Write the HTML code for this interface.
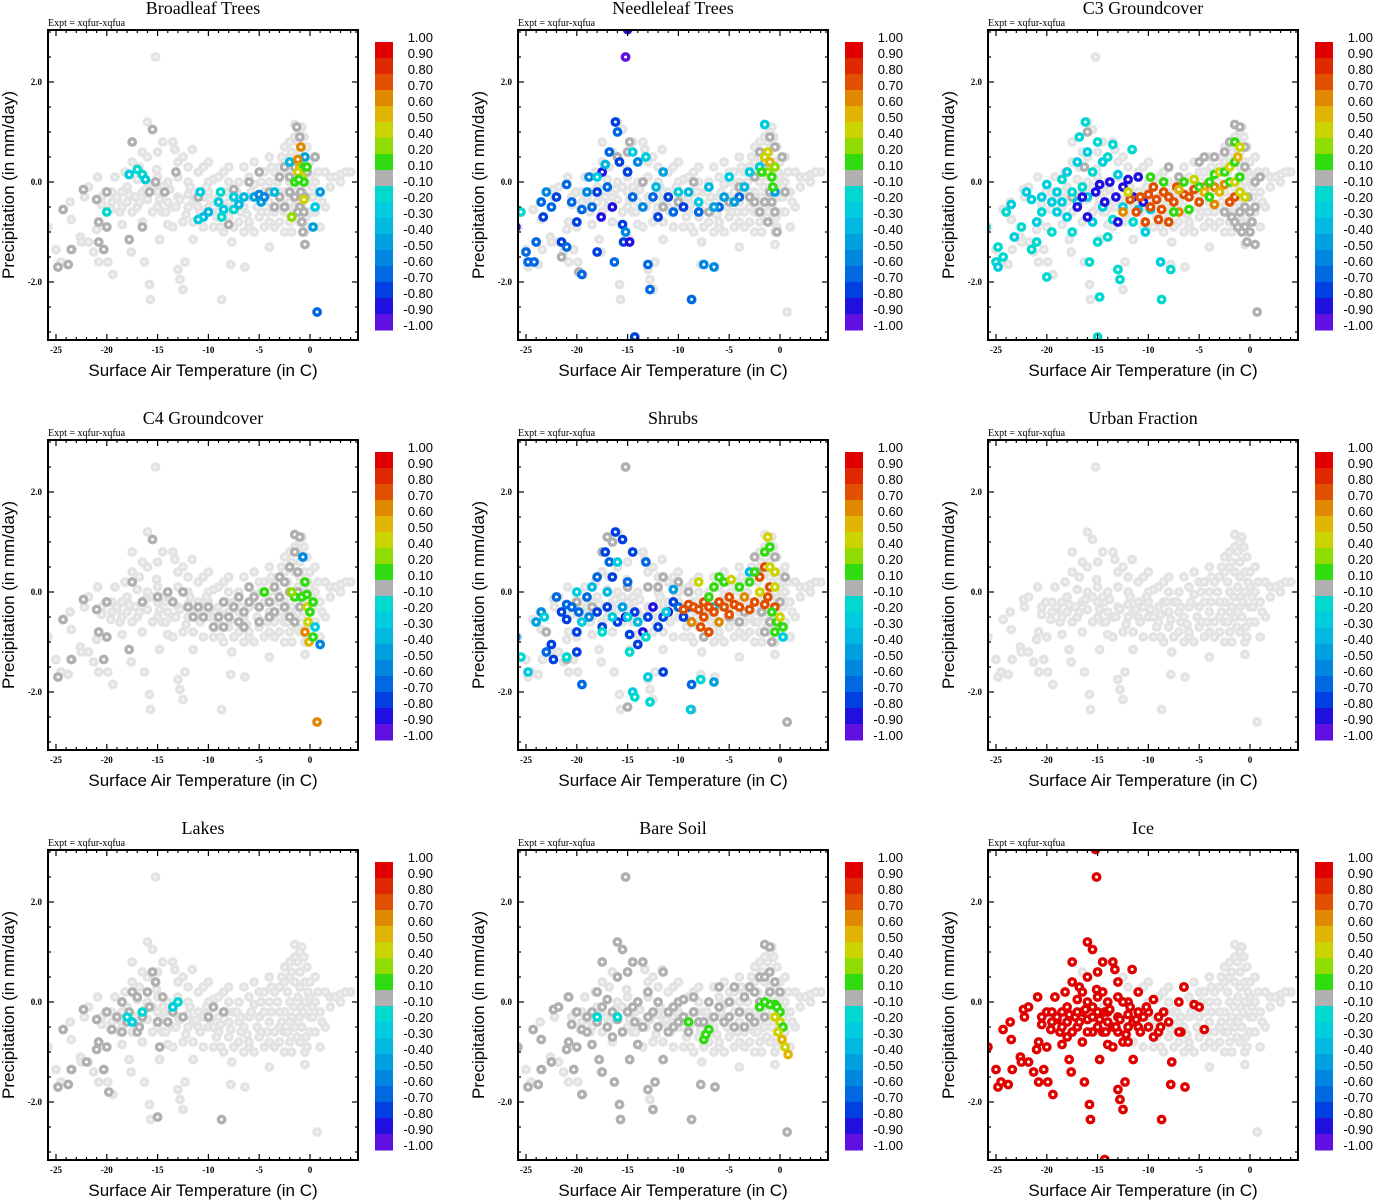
<!DOCTYPE html>
<html><head><meta charset="utf-8"><style>
html,body{margin:0;padding:0;background:#fff;}
svg{display:block;}
</style></head><body>
<svg id="fig" width="1373" height="1200" xmlns="http://www.w3.org/2000/svg"></svg>
<script>
const panelTitles = ["Broadleaf Trees","Needleleaf Trees","C3 Groundcover","C4 Groundcover","Shrubs","Urban Fraction","Lakes","Bare Soil","Ice"];
const xTicks = [-25,-20,-15,-10,-5,0];
const yTicks = [2.0,0.0,-2.0];
const cbLabels = ["1.00","0.90","0.80","0.70","0.60","0.50","0.40","0.20","0.10","-0.10","-0.20","-0.30","-0.40","-0.50","-0.60","-0.70","-0.80","-0.90","-1.00"];
const cbLevels = [1,0.9,0.8,0.7,0.6,0.5,0.4,0.2,0.1,-0.1,-0.2,-0.3,-0.4,-0.5,-0.6,-0.7,-0.8,-0.9,-1];
const cbColors = ["#e00000","#e02800","#e05000","#e08800","#e0b400","#ccd400","#90dc00","#30dc10","#b0b0b0","#00d8d0","#00cce0","#00b8e0","#00a0e0","#0088e0","#0068e0","#0040e0","#2010e0","#6010e0"];

const basePts = [[-25.8,-0.9],[-25,-1.35],[-24.8,-1.7],[-24.5,-1.6],[-24.3,-0.55],[-23.8,-1.65],[-23.6,-0.4],[-23.5,-0.75],[-23.4,-1.35],[-22.6,-1.1],[-22.5,-1.2],[-22.3,-0.15],[-22.2,-0.3],[-21.8,-0.1],[-21.8,-1.2],[-21.3,-1.4],[-21,-0.95],[-20.9,0.1],[-20.8,-0.8],[-20.8,-1.6],[-20.5,-0.45],[-20.3,-1.35],[-20.1,-0.2],[-20,-0.9],[-19.9,-1.6],[-19.6,-0.55],[-19.4,-1.85],[-19.2,0.1],[-19,-0.35],[-18.7,-0.6],[-18.5,-0.85],[-18.2,0.2],[-17.8,-1.15],[-17.6,-1.4],[-17.5,0.8],[-17.2,-0.3],[-17,0.05],[-16.8,0.3],[-16.5,-0.2],[-16.3,-1.6],[-16,1.2],[-15.8,-2.05],[-15.7,-2.35],[-15.5,1.05],[-15.2,2.5],[-15.1,0.25],[-15,-0.5],[-14.8,-1.15],[-14.5,0.8],[-14.3,-0.2],[-14,-0.85],[-13.5,0.8],[-13.3,0.65],[-13,-1.75],[-12.8,-1.95],[-12.5,-2.15],[-12.3,-1.6],[-12,-0.25],[-11.6,0.65],[-11.5,-1.15],[-11,-0.5],[-10.5,-0.3],[-10,-0.2],[-9.5,0.05],[-9,-0.6],[-8.7,-2.35],[-8.5,-0.2],[-8,-0.4],[-7.8,-1.65],[-7.7,-1.2],[-7,0],[-6.8,-0.6],[-6.5,0.3],[-6.4,-1.7],[-6,-0.9],[-5.5,-0.05],[-5,-0.3],[-4.8,-0.6],[-4.5,-0.9],[-4,-1.3],[-3.5,0.2],[-3,-0.5],[-2.5,-0.2],[-2,0.5],[-2,-0.8],[-1.5,1.15],[-1.2,0.8],[-1,0.3],[-1,-0.3],[-0.8,1.1],[-0.5,-1.0],[-0.5,-1.25],[0,0.1],[0,-0.6],[0.5,0.5],[0.7,-2.6],[1,-0.2],[1.5,0.2],[2,0.1],[3,0.15],[4,0.2],[-0.3,-0.9],[-1.8,-0.3],
[-19,-0.3],[-18,-0.4],[-18,-0.1],[-17,-0.5],[-16,-0.35],[-16,0],[-15,-0.2],[-15,0.1],[-14,-0.4],[-14,0],[-13,-0.3],[-13,0.1],[-12,-0.5],[-12,0],[-11,-0.2],[-11,0.2],[-10,-0.5],[-10,0],[-9,-0.3],[-9,0.1],[-8,-0.7],[-8,0],[-7,-0.4],[-7,-0.8],[-6,-0.3],[-6,0.1],[-5,-0.7],[-5,0.2],[-4,-0.4],[-4,0],[-3,-0.2],[-3,0.3],[-2.5,-0.6],[-2,0],[-2,0.8],[-1.5,-0.5],[-1.5,0.4],[-1,-0.8],[-1,0.6],[-0.5,0],[-0.5,0.4],[0,-0.3],[0.5,-0.6],[0.5,0],[1,-0.9],[2,-0.1],[3,0],[-16.5,-0.8],[-15.5,-0.6],[-14.5,-0.6],[-13.5,-0.9],[-12.5,-0.8],[-11.5,-0.8],[-10.5,-0.9],[-9.5,-0.9],[-8.5,-1.0],[-6.5,-1.0],[-5.5,-1.0],[-3.5,-0.9],[-2.5,-1.0],[-17.5,0.4],[-16,0.5],[-15,0.6],[-13,0.4],[-12,0.3],[-10,0.4],[-8,0.3],[-5.5,0.4],[-4,0.5],[-2.5,0.7],[-7.5,-0.2],[-6.5,-0.5],[-4.5,-0.2],[-3.5,-0.6],[-2,-0.4],[-1.2,0.1],[-0.8,-0.5],[-0.3,0.7],[0.3,-0.3],[1.5,-0.5],[-9.5,-0.5],[-8.5,0.2],[-11.5,-0.4],[-13.5,-0.5],[-18.5,-0.2],[-17.5,-0.6],[-20.5,-0.3],[-19.5,-0.2],
[-19.5,-0.4],[-18.5,-0.5],[-17.8,-0.25],[-16.8,-0.4],[-16.2,-0.15],[-15.5,-0.1],[-14.8,-0.35],[-14.2,-0.6],[-13.8,-0.15],[-13.2,-0.5],[-12.8,-0.35],[-12.2,-0.65],[-11.8,-0.1],[-11.2,-0.35],[-10.8,-0.6],[-10.2,-0.1],[-9.8,-0.35],[-9.2,-0.7],[-8.8,-0.45],[-8.2,-0.2],[-7.8,-0.55],[-7.2,-0.2],[-6.8,-0.3],[-6.2,-0.65],[-5.8,-0.2],[-5.2,-0.5],[-4.8,0],[-4.2,-0.6],[-3.8,-0.2],[-3.2,0],[-2.8,-0.4],[-2.2,0.2],[-1.8,0.6],[-1.6,-0.1],[-1.3,-0.7],[-0.9,-0.1],[-0.6,0.9],[-0.4,-0.7],[-0.2,0.2],[0.2,-0.1],[0.8,0.2],[1.2,-0.4],[2.5,0.1],[3.5,0.2],[-2.8,0.5],[-3.8,0.3],[-4.5,0.2],[-14.5,-0.1],[-16.5,0.6],[-12.5,0.5],[-10.5,0.3],[-8.8,-0.9],[-7.5,-0.9],[-6,-0.8],[-4,-0.8],[-3,-0.8],[-1.8,-1.0],[-2.2,-0.6],[-1.2,-0.4],[-0.7,-0.2],[0,0.4],[-1.5,0.9],[-1,1.0],[-2.5,0.4]];

const pts1 = [[-24.3,-0.55,0],[-23.5,-1.35,0],[-24.8,-1.7,0],[-23.8,-1.65,0],[-22.3,-0.15,0],[-21,-0.35,0],[-20.8,-0.8,0],[-20.8,-1.2,0],[-20.3,-1.35,0],[-20,-0.2,0],[-20,-0.9,0],[-17.8,-1.15,0],[-17.5,0.8,0],[-16.5,-0.9,0],[-15.5,1.05,0],[-15.8,-0.2,0],[-15.2,0,0],[-14.3,-0.2,0],[-13.2,0.2,0],[-11,-0.3,0],[-8,-0.85,0],[-7.5,-0.15,0],[-6,0,0],[-5,0.2,0],[-4,-0.2,0],[-3.5,-0.5,0],[-3,0.1,0],[-2.5,0.3,0],[-2,-0.2,0],[-1.5,0.3,0],[-1,-0.5,0],[-1,0.9,0],[-0.8,-0.8,0],[-0.5,-1.25,0],[-0.5,-0.3,0],[0.5,0.5,0],[-0.3,0.2,0],[-1.5,-0.3,0],[-2.5,-0.5,0],[-0.7,-1.0,0],[-1.2,-0.6,0],[-0.6,-0.6,0],[-0.9,-0.2,0],[-2,0.1,0],[-3,-0.3,0],[-1.3,1.1,0],
[-17,0.25,-0.2],[-16.5,0.15,-0.2],[-16.2,0.05,-0.25],[-17.8,0.15,-0.3],[-20,-0.6,-0.2],[-10.8,-0.2,-0.3],[-8.8,-0.2,-0.2],[-9,-0.4,-0.25],[-8.5,-0.55,-0.3],[-8.7,-0.7,-0.2],[-10,-0.6,-0.35],[-10.5,-0.7,-0.4],[-11,-0.75,-0.3],[-7.5,-0.3,-0.3],[-7.5,-0.55,-0.2],[-7,-0.45,-0.35],[-6.5,-0.3,-0.4],[-5.5,-0.3,-0.45],[-5,-0.25,-0.55],[-4.8,-0.4,-0.5],[-4.5,-0.3,-0.6],[-3.5,-0.2,-0.4],[-2,0.4,-0.4],[-0.5,0.5,-0.5],[0.5,-0.5,-0.3],[1,-0.2,-0.45],[0.3,-0.9,-0.5],[0.7,-2.6,-0.7],
[-1.2,0.45,0.6],[-0.9,0.7,0.65],[-1,0.3,0.5],[-0.6,0.3,0.15],[-0.8,0.1,0.4],[-0.6,0,0.15],[-1.2,0.2,0.4],[-1.5,0.0,0.12],[-0.6,-0.35,0.45],[-1.8,-0.7,0.3],[-1.1,0.05,0.12],[-0.3,0.3,0.12]];

const pts2 = [[-16,0.5,0],[-15,0.6,0],[-14.8,0.8,0],[-13.5,0,0],[-11.5,-0.5,0],[-10,-0.4,0],[-8.5,0,0],[-7,-0.6,0],[-5,-0.4,0],[-4,-0.1,0],[-3,-0.3,0],[-2.5,0.1,0],[-2,-0.6,0],[-1.5,0.4,0],[-1,-0.2,0],[-0.5,0.7,0],[-0.5,-0.6,0],[-2,0.6,0],[-1,0.9,0],[0.2,0.5,0],[-19.8,-1.8,0],[-21.5,-1.5,0],[-1.2,-0.8,0],[-0.3,-1.0,0],[0.5,-0.2,0],[-1.5,-0.4,0],[-0.8,-0.4,0],[-2.5,-0.4,0],
[-26,-0.9,-0.85],[-25,-1.4,-0.7],[-24.8,-1.6,-0.7],[-24.2,-1.6,-0.7],[-24,-1.2,-0.65],[-23.5,-0.4,-0.65],[-23.3,-0.7,-0.75],[-23,-0.2,-0.6],[-22.5,-0.5,-0.7],[-22,-0.3,-0.8],[-21.5,-1.2,-0.75],[-21,-1.3,-0.7],[-21,-0.05,-0.7],[-20.5,-0.4,-0.7],[-20,-0.8,-0.8],[-19.5,-0.55,-0.65],[-19,-0.2,-0.6],[-19.5,-1.85,-0.7],[-18.8,0.1,-0.6],[-18.5,-0.5,-0.7],[-18,-0.2,-0.8],[-18,-1.4,-0.8],[-17.6,-0.7,-0.9],[-17.5,0.2,-0.85],[-17,-0.1,-0.7],[-16.8,0.6,-0.7],[-16.5,-0.5,-0.85],[-16.3,-1.6,-0.7],[-16.2,1.2,-0.8],[-16,1.0,-0.7],[-15.8,0.4,-0.8],[-15.5,-0.85,-0.75],[-15.4,-1.2,-0.8],[-15.2,2.5,-0.95],[-15.2,-1.0,-0.6],[-15,0.2,-0.8],[-15,3.05,-0.9],[-14.8,-1.2,-0.9],[-14.5,-0.3,-0.7],[-14.3,-3.1,-0.8],[-14,0.4,-0.6],[-13.5,-0.5,-0.6],[-13,-1.65,-0.7],[-12.8,-2.15,-0.7],[-12.5,-0.3,-0.7],[-12,-0.7,-0.8],[-11,-0.3,-0.8],[-10.5,-0.6,-0.7],[-9.5,-0.5,-0.75],[-8.7,-2.35,-0.7],[-7.5,-1.65,-0.6],[-6.5,-1.7,-0.6],[-8,-0.6,-0.65],[-6,-0.5,-0.7],[-4,-0.3,-0.65],
[-25.5,-0.6,-0.2],[-18,0.1,-0.3],[-17.2,0.35,-0.4],[-14.5,0.6,-0.25],[-13.2,0.5,-0.3],[-12.2,-0.1,-0.4],[-11.5,0.2,-0.45],[-10,-0.2,-0.3],[-9,-0.2,-0.35],[-8,-0.4,-0.3],[-7,-0.1,-0.4],[-6.5,-0.5,-0.5],[-5.5,-0.3,-0.45],[-5,0.1,-0.3],[-4.5,-0.4,-0.5],[-3.5,-0.1,-0.4],[-3,0.2,-0.3],[-2,0.3,-0.25],[-1.5,1.15,-0.25],[-0.5,-0.2,-0.45],
[-1.5,0.5,0.4],[-1.2,0.2,0.3],[-1,0.4,0.5],[-0.8,0.1,0.15],[-0.5,0.3,0.35],[-1.8,0.2,0.12],[-1.2,0.6,0.45],[-0.7,-0.1,0.15]];

const pts3 = [[-18,0.2,0],[-16,1.0,0],[-17.5,-0.3,0],[-16.3,0.3,0],[-8,0.3,0],[-7,0.1,0],[-5,0.4,0],[-4.5,0.5,0],[-3.5,0.5,0],[-2.5,0.6,0],[-2,0.8,0],[-1.5,1.15,0],[-1,1.1,0],[-0.5,0.7,0],[-0.5,-0.5,0],[-0.5,-0.9,0],[-0.8,-1.0,0],[-0.3,-1.2,0],[0,-1.0,0],[0,-0.6,0],[0.5,0,0],[0.5,-0.5,0],[1,0.1,0],[0.7,-2.6,0],[-1,-0.6,0],[0.5,-1.25,0],[-1.8,-0.7,0],[-2.5,-0.6,0],[-0.5,0.3,0],[-1.2,-0.9,0],[-0.2,-0.3,0],[0.2,-0.8,0],[-1.5,-0.8,0],
[-26,-0.9,-0.2],[-25,-1.6,-0.2],[-24.8,-1.7,-0.25],[-24.3,-1.5,-0.2],[-24.8,-1.3,-0.2],[-24,-0.6,-0.2],[-23.5,-0.45,-0.25],[-23.2,-1.1,-0.3],[-22.5,-0.9,-0.2],[-22,-0.2,-0.25],[-21.5,-0.35,-0.3],[-21.5,-1.35,-0.2],[-21,-0.8,-0.25],[-21,-1.2,-0.2],[-20.5,-0.3,-0.3],[-20.5,-0.6,-0.2],[-20,-0.05,-0.25],[-20,-1.9,-0.2],[-19.5,-0.4,-0.3],[-19.5,-1.0,-0.2],[-19,-0.2,-0.3],[-19,-0.6,-0.25],[-18.5,0.05,-0.2],[-18.5,-0.4,-0.3],[-18,-0.7,-0.3],[-18,0.2,-0.25],[-17.5,-0.2,-0.2],[-17.5,-1.0,-0.2],[-17,0.4,-0.25],[-17,-0.4,-0.3],[-16.8,0.9,-0.2],[-16.5,-0.1,-0.2],[-16.2,1.2,-0.2],[-16,0.6,-0.25],[-16,-0.3,-0.3],[-15.8,-1.6,-0.2],[-15.5,0.2,-0.2],[-15.5,-0.8,-0.25],[-15,0.8,-0.2],[-15,-1.2,-0.2],[-14.8,-2.3,-0.2],[-14.5,0.4,-0.25],[-14.5,-0.5,-0.3],[-14,0.5,-0.2],[-14,-1.1,-0.2],[-13.5,0.75,-0.2],[-13.5,-0.75,-0.2],[-13,0.15,-0.25],[-13,-1.75,-0.2],[-12.8,-1.95,-0.2],[-12.5,-0.5,-0.3],[-11.5,-0.8,-0.2],[-11,-0.55,-0.3],[-10.3,-1.0,-0.3],[-9.8,-0.55,-0.25],[-11.6,0.65,-0.2],[-8.7,-2.35,-0.2],[-7.8,-1.75,-0.2],[-8.8,-1.6,-0.3],[-15,-3.1,-0.2],
[-17,-0.5,-0.9],[-16.5,-0.3,-0.9],[-16,-0.7,-0.85],[-15.2,-0.2,-0.85],[-14.8,-0.05,-0.9],[-14.3,-0.4,-0.9],[-13.8,0.0,-0.85],[-13.2,-0.3,-0.9],[-13,-0.8,-0.9],[-12.5,-0.1,-0.9],[-12,0.05,-0.85],[-11.5,-0.3,-0.9],[-11,0.1,-0.85],[-10.5,-0.4,-0.9],
[-12.5,-0.6,0.6],[-11.8,-0.35,0.75],[-11.2,-0.6,0.75],[-10.8,-0.3,0.75],[-10.3,-0.8,0.75],[-10,-0.25,0.75],[-9.8,-0.5,0.7],[-9.5,-0.1,0.75],[-9.2,-0.35,0.75],[-9,-0.75,0.75],[-8.7,-0.55,0.75],[-8.5,-0.2,0.75],[-8,-0.3,0.75],[-8,-0.8,0.7],[-7.5,-0.4,0.75],[-7.2,-0.1,0.75],[-7,-0.6,0.6],[-6.5,-0.25,0.75],[-6,-0.3,0.75],[-5.5,-0.15,0.75],[-5,-0.4,0.7],[-4.5,-0.1,0.6],[-3.5,-0.1,0.65],[-2.5,-0.05,0.65],[-2,-0.4,0.75],[-1.5,-0.3,0.75],[-3.5,-0.45,0.6],
[-12,-0.2,0.45],[-9.8,0.1,0.15],[-8.5,0,0.12],[-7.5,-0.6,0.15],[-7,-0.15,0.5],[-6.5,0,0.15],[-6,-0.55,0.15],[-5.5,0.05,0.45],[-5,-0.1,0.15],[-4.5,-0.2,0.5],[-4,0,0.15],[-4,-0.3,0.12],[-3.5,0.15,0.15],[-3,-0.2,0.5],[-3,0.2,0.45],[-2.5,0.2,0.15],[-2,0.0,0.15],[-2,0.3,0.45],[-1.5,0.4,0.15],[-1.5,0,0.45],[-1,-0.2,0.45],[-1,0.1,0.15],[-0.5,-0.3,0.45],[-1.5,0.8,0.15],[-1.2,0.5,0.5],[-1,0.7,0.45]];

const pts4 = [[-24.3,-0.55,0],[-24.8,-1.7,0],[-23.5,-1.35,0],[-22.3,-0.15,0],[-21,-0.35,0],[-20.8,-0.8,0],[-20.3,-1.35,0],[-20,-0.2,0],[-20,-0.9,0],[-17.8,-1.15,0],[-17.5,0.2,0],[-15.5,1.05,0],[-16.5,-0.2,0],[-15,-0.1,0],[-13.5,-0.2,0],[-12,-0.3,0],[-11,-0.3,0],[-10,-0.3,0],[-9,-0.5,0],[-8.5,-0.2,0],[-8,-0.5,0],[-7.5,-0.3,0],[-7,-0.1,0],[-6.5,-0.4,0],[-6,-0.2,0],[-5.5,-0.1,0],[-5,-0.3,0],[-4.5,0,0],[-4,-0.2,0],[-3.5,0.1,0],[-3,-0.1,0],[-3,0.3,0],[-2.5,0.2,0],[-2.5,-0.3,0],[-2,0.5,0],[-2,0,0],[-1.5,1.15,0],[-1.5,0.8,0],[-1.2,0.4,0],[-1,1.1,0],[-1,-0.3,0],[-10.5,-0.5,0],[-9.5,-0.7,0],[-7,-0.6,0],[-12.5,0,0],[-14,0,0],[-5,-0.6,0],[-3.5,-0.4,0],[-1.5,-0.6,0],[-6,0.1,0],[-8.5,-0.7,0],[-6.5,-0.7,0],[-4,-0.5,0],[-2,-0.5,0],[-1.2,0.0,0],[-11.5,-0.5,0],
[-0.5,0.2,0.12],[-0.8,-0.1,0.15],[-0.3,-0.3,0.45],[-0.2,-0.6,0.45],[-0.5,-0.8,0.6],[-0.1,-1.0,0.55],[0,-0.4,0.15],[0.3,-0.2,0.15],[-1.5,-0.1,0.15],[-1.8,0.0,0.3],[-4.5,0,0.15],[0.7,-2.6,0.6],[1,-1.05,-0.55],[0.5,-0.7,-0.3],[-0.7,0.7,-0.6],[0.3,-0.9,0.15],[-0.3,-0.05,0.12]];

const pts5 = [[-17,1.1,0],[-16.5,1.0,0],[-17.5,0.8,0],[-22,-0.1,0],[-20,-0.2,0],[-18.5,-0.3,0],[-15,0.1,0],[-13,0.1,0],[-11.5,0.3,0],[-10,0.2,0],[-12,0.1,0],[-9,0.0,0],[-5,-0.5,0],[-4,-0.6,0],[-3.5,-0.4,0],[-2.5,0.7,0],[-1.8,-0.4,0],[-1,-0.6,0],[-0.8,-1.0,0],[0,-0.2,0],[0.5,0.3,0],[-0.5,0.7,0],[-15,-2.3,0],[-15.2,2.5,0],[-21,-1.35,0],[-23,-0.8,0],[0.7,-2.6,0],[-8.7,-2.35,0],[-7.5,-0.9,0],[-1.5,-0.8,0],[-2.2,0.4,0],
[-26,-0.9,-0.6],[-24,-0.6,-0.5],[-23.5,-0.4,-0.6],[-23,-1.2,-0.7],[-22.5,-1.05,-0.75],[-22.3,-1.35,-0.8],[-22,-0.1,-0.7],[-21.5,-0.4,-0.75],[-21,-0.55,-0.8],[-21,-0.25,-0.7],[-20.5,-0.3,-0.65],[-20,-0.8,-0.75],[-20,-1.2,-0.8],[-19.8,-0.4,-0.7],[-19.5,-1.85,-0.7],[-19,-0.1,-0.7],[-18.8,-0.5,-0.6],[-18,-0.4,-0.75],[-18,0.3,-0.7],[-17.5,-0.7,-0.8],[-17.2,0.8,-0.8],[-17,-0.3,-0.75],[-16.8,0.6,-0.7],[-16.5,0.3,-0.8],[-16.2,1.2,-0.8],[-16,-0.6,-0.75],[-15.5,1.05,-0.8],[-15.2,-0.5,-0.85],[-15,0.2,-0.7],[-14.8,-0.85,-0.75],[-14.5,0.8,-0.8],[-14.3,-0.4,-0.8],[-14,-1.05,-0.8],[-13.5,-0.8,-0.85],[-13.2,0.6,-0.7],[-13,-0.5,-0.8],[-12.5,-0.3,-0.85],[-12,-0.7,-0.8],[-11.5,-0.5,-0.8],[-11.5,-1.6,-0.75],[-11,-0.4,-0.85],[-10.5,-0.2,-0.8],[-10,-0.3,-0.7],[-9.5,-0.5,-0.75],[-9,-0.3,-0.7],[-8.7,-1.85,-0.7],[-8.7,-0.6,-0.65],[-6.5,-1.8,-0.5],
[-25.5,-1.3,-0.2],[-24.8,-1.6,-0.25],[-23.2,-0.5,-0.3],[-21,-1.3,-0.2],[-20,0.0,-0.3],[-19.5,-0.6,-0.3],[-18.5,0.1,-0.35],[-17.5,-0.8,-0.2],[-17,0.0,-0.4],[-16.5,-0.5,-0.3],[-16,0.6,-0.25],[-15.5,-0.3,-0.45],[-15,-0.5,-0.3],[-14.8,-1.2,-0.2],[-14.5,-2.0,-0.25],[-14.3,-2.1,-0.2],[-14,-0.6,-0.35],[-13.2,-0.9,-0.2],[-13,-1.7,-0.25],[-12.8,-2.2,-0.2],[-11.2,-0.4,-0.3],[-10.5,0.05,-0.45],[-8.8,-2.35,-0.3],[-7.8,-1.75,-0.2],[-6.5,-0.3,-0.4],[-3,0.4,-0.4],[0.3,-0.9,-0.3],
[-9.5,-0.35,0.7],[-9,-0.25,0.75],[-8.7,-0.6,0.6],[-8.5,-0.3,0.75],[-8,-0.35,0.7],[-7.8,-0.7,0.75],[-7.5,-0.2,0.75],[-7.5,-0.5,0.75],[-7,-0.3,0.75],[-7,-0.8,0.7],[-6.5,-0.4,0.75],[-6,-0.6,0.6],[-6,-0.2,0.75],[-5.5,-0.3,0.75],[-5,-0.1,0.75],[-5,-0.45,0.75],[-4.5,-0.25,0.75],[-4,-0.3,0.75],[-3.5,-0.1,0.6],[-3,-0.35,0.75],[-2.5,-0.2,0.75],[-2,0.3,0.75],[-1.5,0.5,0.75],[-1.2,-0.1,0.75],[-1.5,-0.25,0.75],[-1,0.1,0.7],[-0.5,-0.3,0.75],[-6.5,0.1,0.15],[-5.5,0.2,0.15],[-4.8,0.25,0.4],[-4,0.1,0.15],[-3,0.2,0.15],[-2.5,0.4,0.15],[-2,0.0,0.4],[-1.5,0.8,0.15],[-1.2,1.1,0.4],[-1,0.9,0.15],[-1,0.5,0.4],[-0.5,0.4,0.45],[-0.5,0.1,0.4],[-0.8,-0.4,0.15],[-0.3,-0.6,0.15],[0,-0.5,0.4],[0.3,-0.7,0.15],[-0.5,-0.8,0.15],[-7,-0.1,0.15],[-8,0.2,0.4],[-6,0.3,0.15]];

const pts6 = [];

const pts7 = [[-24.8,-1.7,0],[-24.3,-0.55,0],[-23.8,-1.65,0],[-23.5,-1.35,0],[-22.3,-0.15,0],[-22,-1.2,0],[-21,-0.35,0],[-21,-0.95,0],[-20.8,-0.8,0],[-20.3,-1.35,0],[-20,-0.2,0],[-20,-0.9,0],[-19.5,-0.55,0],[-19,-0.3,0],[-18.5,0,0],[-18,-0.4,0],[-17.8,-0.2,0],[-17.5,0.2,0],[-17,-0.6,0],[-17,0.1,0],[-16.5,-0.3,0],[-16,0.2,0],[-15.8,-0.1,0],[-15.5,0.6,0],[-15.2,0.4,0],[-15,-0.4,0],[-14.8,-0.9,0],[-15,-2.3,0],[-14.5,0.1,0],[-14,-0.4,0],[-13.5,-0.2,0],[-13,0,0],[-12.5,-0.3,0],[-10,-0.3,0],[-9.5,-0.1,0],[-8.5,-0.2,0],[-8.7,-2.35,0],[-16.8,-0.5,0],[-18.5,-0.6,0],[-19.8,-1.8,0],
[-18,-0.3,-0.2],[-17.5,-0.4,-0.3],[-16.5,-0.2,-0.2],[-13,0,-0.2],[-13.5,-0.1,-0.25]];

const pts8 = [[-25.8,-0.9,0],[-24.8,-1.7,0],[-24.3,-0.55,0],[-23.8,-1.65,0],[-23.5,-1.35,0],[-23.5,-0.75,0],[-22.5,-1.2,0],[-22.3,-0.15,0],[-21.8,-0.1,0],[-21,-0.95,0],[-20.8,0.1,0],[-20.8,-0.8,0],[-20.5,-0.45,0],[-20.3,-1.35,0],[-20,-0.2,0],[-20,-0.9,0],[-19.5,-1.85,0],[-19.5,-0.55,0],[-19,-0.3,0],[-18.5,-0.85,0],[-18,0.2,0],[-18,-0.4,0],[-17.8,-1.15,0],[-17.5,0.8,0],[-17.5,-1.4,0],[-17,-0.5,0],[-17,0.05,0],[-16.5,-0.2,0],[-16.3,-1.6,0],[-16,1.2,0],[-16,0.5,0],[-16,-0.35,0],[-15.5,1.05,0],[-15.5,-0.6,0],[-15.2,2.5,0],[-15,0.6,0],[-15,-0.2,0],[-14.8,-1.15,0],[-14.5,0.8,0],[-14.3,-0.4,0],[-14,0,0],[-14,-0.85,0],[-13.5,0.8,0],[-13,-0.3,0],[-13,-1.75,0],[-12.5,-2.15,0],[-12.3,-1.6,0],[-12,-0.5,0],[-12,0,0],[-11.5,0.6,0],[-11.5,-1.15,0],[-11,-0.2,0],[-10.5,-0.5,0],[-10,0,0],[-10,-0.4,0],[-9.5,0.05,0],[-9,-0.6,0],[-8.7,-2.35,0],[-8.5,-0.2,0],[-8,-0.4,0],[-7.8,-1.65,0],[-7,0,0],[-6.5,-0.3,0],[-6,-0.1,0],[-5.5,-0.4,0],[-5,0,0],[-5,-0.3,0],[-4.5,0.3,0],[-4,-0.2,0],[-3.5,0.1,0],[-3,-0.3,0],[-2.5,0.2,0],[-2.5,-0.4,0],[-2,0.5,0],[-2,0,0],[-1.5,1.15,0],[-1.5,0.5,0],[-1.5,-0.3,0],[-1,1.1,0],[-1,0.6,0],[-1,0.2,0],[-0.5,0.4,0],[0,0.2,0],[0.7,-2.6,0],[-6.4,-1.7,0],[-15.7,-2.35,0],[-15.8,-2.05,0],[-19,-0.6,0],[-17.5,-0.1,0],[-16.5,-0.7,0],[-13.5,-0.5,0],[-12.5,-0.2,0],[-11,-0.6,0],[-9.5,-0.3,0],[-8.5,0.1,0],[-7.5,-0.4,0],[-3.5,-0.5,0],[-6,0.3,0],[-3,0.3,0],[-18.5,-0.2,0],[-14.5,-0.1,0],[-13,0.2,0],[-10.5,-0.1,0],[-4.5,-0.5,0],
[-0.5,-0.05,0.15],[-0.3,-0.1,0.12],[0,-0.2,0.15],[-0.5,-0.3,0.45],[0,-0.4,0.45],[0.3,-0.5,0.15],[-0.2,-0.6,0.45],[0.2,-0.75,0.5],[0.5,-0.9,0.45],[0.8,-1.05,0.5],[-1,-0.05,0.15],[-1.5,0,0.15],[-2,-0.1,0.15],[-7,-0.55,0.15],[-7.5,-0.75,0.15],[-7.3,-0.65,0.12],[-9,-0.4,0.15],[-18,-0.3,-0.2],[-16,-0.3,-0.2]];

const iceR = 0.95;
const pts9 = [[-25.8,-0.9],[-25,-1.35],[-24.8,-1.7],[-24.5,-1.6],[-24.3,-0.55],[-23.8,-1.65],[-23.6,-0.4],[-23.5,-0.75],[-23.4,-1.35],[-22.6,-1.1],[-22.5,-1.2],[-22.3,-0.15],[-22.2,-0.3],[-21.8,-0.1],[-21.8,-1.2],[-21.3,-1.4],[-21,-0.95],[-20.9,0.1],[-20.8,-0.8],[-20.8,-1.6],[-20.5,-0.45],[-20.3,-1.35],[-20,-0.2],[-20,-0.9],[-19.9,-1.6],[-19.6,-0.55],[-19.4,-1.85],[-19.2,0.1],[-19,-0.35],[-18.7,-0.6],[-18.5,-0.85],[-18.2,0.2],[-17.8,-1.15],[-17.6,-1.4],[-17.5,0.8],[-17.2,-0.3],[-17,0.05],[-16.8,0.3],[-16.5,-0.2],[-16.3,-1.6],[-16,1.2],[-15.8,-2.05],[-15.7,-2.35],[-15.5,1.05],[-15.1,2.5],[-15.2,3.05],[-15.1,0.25],[-15,-0.5],[-14.8,-1.15],[-14.5,0.8],[-14.3,-0.2],[-14.3,-3.15],[-14,-0.85],[-13.5,0.8],[-13.3,0.65],[-13,-1.75],[-12.8,-1.95],[-12.5,-2.15],[-12.3,-1.6],[-12,-0.25],[-11.6,0.65],[-11.5,-1.15],[-11,-0.5],[-10.5,-0.3],[-10,-0.2],[-9.5,0.05],[-9,-0.6],[-8.7,-2.35],[-8.5,-0.2],[-8,-0.4],[-7.8,-1.65],[-7.7,-1.2],[-7,0],[-6.8,-0.6],[-6.5,0.3],[-6.4,-1.7],[-5.5,-0.05],[-5,-0.1],[-4.5,-0.55],
[-19,-0.3],[-18,-0.4],[-18,-0.1],[-17,-0.5],[-16,-0.35],[-16,0],[-15,-0.2],[-15,0.1],[-14,-0.4],[-14,0],[-13,-0.3],[-13,0.1],[-12,-0.5],[-12,0],[-11,-0.2],[-11,0.2],[-10,-0.5],[-9,-0.3],[-16.5,-0.8],[-15.5,-0.6],[-14.5,-0.6],[-13.5,-0.9],[-12.5,-0.8],[-17.5,0.4],[-16,0.5],[-15,0.6],[-13,0.4],[-18.5,-0.2],[-17.5,-0.6],[-16.5,0.2],[-15.5,-0.3],[-14.5,0.2],[-13.5,-0.5],[-12.5,0.0],[-11.5,-0.4],[-20.5,-0.3],[-19.5,-0.2],[-18,-0.7],[-17,-0.2],[-16,-0.6],[-14,-0.2],[-13,-0.6],[-12,-0.8],[-8.8,-0.5],[-9.5,-0.7],[-7,-0.6],[-6.5,0.3],[-19.5,-0.4],[-18.5,-0.5],[-17.8,-0.25],[-16.8,-0.4],[-16.2,-0.15],[-15.5,-0.1],[-14.8,-0.35],[-14.2,-0.6],[-13.8,-0.15],[-13.2,-0.5],[-12.8,-0.35],[-12.2,-0.65],[-11.8,-0.1],[-11.2,-0.35],[-10.8,-0.6],[-10.2,-0.1]];

const panelPts = [pts1,pts2,pts3,pts4,pts5,pts6,pts7,pts8,pts9.map(p=>[p[0],p[1],iceR])];

const NS="http://www.w3.org/2000/svg";
const svg=document.getElementById('fig');
function el(tag,attrs,parent){const e=document.createElementNS(NS,tag);for(const k in attrs)e.setAttribute(k,attrs[k]);(parent||svg).appendChild(e);return e;}
const L=48,R=358,T=30,B=340;
function xs(t){return 310+10.16*t;}
function ys(p){return 182-50*p;}
function colorFor(r){for(let i=0;i<18;i++){if(r>=cbLevels[i+1])return cbColors[i];}return cbColors[17];}

panelTitles.forEach((title,idx)=>{
  const c=idx%3, rw=Math.floor(idx/3);
  const g=el('g',{transform:`translate(${470*c},${410*rw})`});
  
  
  const tt=el('text',{x:203,y:14,'text-anchor':'middle','font-family':'"Liberation Serif",serif','font-size':18,fill:'#000'},g);
  tt.textContent=title;
  
  
  const ex=el('text',{x:48,y:26,'font-family':'"Liberation Serif",serif','font-size':10,fill:'#000'},g);
  ex.textContent='Expt = xqfur-xqfua';
  
  
  const cid='clip'+idx;
  const cp=el('clipPath',{id:cid},g);
  el('rect',{x:L,y:T,width:R-L,height:B-T},cp);
  const pg=el('g',{'clip-path':`url(#${cid})`},g);
  
  
  basePts.forEach(p=>{
    const m=el('circle',{cx:xs(p[0]),cy:ys(p[1]),r:3.2,fill:'#f4f4f4',stroke:'#e3e3e3','stroke-width':3.4},pg);
    
    
  });
  const pts=panelPts[idx].slice().sort((a,b)=>(Math.abs(a[2])<0.1?0:1)-(Math.abs(b[2])<0.1?0:1));
  pts.forEach(p=>{
    const m=el('circle',{cx:xs(p[0]),cy:ys(p[1]),r:3.2,fill:'#fff',stroke:colorFor(p[2]),'stroke-width':3.4},pg);
    
    
  });
  const fr=el('rect',{x:L,y:T,width:R-L,height:B-T,fill:'none',stroke:'#000','stroke-width':2},g);
  
  
  for(let t=-25;t<=4;t++){
    const x=xs(t), len=(t%5===0)?6:3;
    el('line',{x1:x,y1:B,x2:x,y2:B-len,stroke:'#000','stroke-width':1.2},g);
    el('line',{x1:x,y1:T,x2:x,y2:T+len,stroke:'#000','stroke-width':1.2},g);
  }
  for(let k=-6;k<=6;k++){
    const v=k*0.5, y=ys(v); if(y<T||y>B)continue;
    const len=(k%4===0)?6:3;
    el('line',{x1:L,y1:y,x2:L+len,y2:y,stroke:'#000','stroke-width':1.2},g);
    el('line',{x1:R,y1:y,x2:R-len,y2:y,stroke:'#000','stroke-width':1.2},g);
  }
  xTicks.forEach(t=>{
    const lb=el('text',{x:xs(t),y:353,'text-anchor':'middle','font-family':'"Liberation Serif",serif','font-size':9,'font-weight':'bold',fill:'#000'},g);
    lb.textContent=String(t);
    
    
  });
  yTicks.forEach(v=>{
    const lb=el('text',{x:42,y:ys(v)+3,'text-anchor':'end','font-family':'"Liberation Serif",serif','font-size':9,'font-weight':'bold',fill:'#000'},g);
    lb.textContent=v.toFixed(1);
    
    
  });
  const xt=el('text',{x:203,y:376,'text-anchor':'middle','font-family':'"Liberation Sans",sans-serif','font-size':17,fill:'#000'},g);
  xt.textContent='Surface Air Temperature (in C)';
  
  
  const yt=el('text',{x:0,y:0,transform:'translate(14,185) rotate(-90)','text-anchor':'middle','font-family':'"Liberation Sans",sans-serif','font-size':17,fill:'#000'},g);
  yt.textContent='Precipitation (in mm/day)';
  
  
  const cb=el('g',{},g);
  
  
  cbColors.forEach((col,i)=>{
    const rc=el('rect',{x:375,y:42+16*i,width:18,height:16.5,fill:col},cb);
    
    
  });
  cbLabels.forEach((s,i)=>{
    const lb=el('text',{x:433,y:42+16*i,'text-anchor':'end','font-family':'"Liberation Sans",sans-serif','font-size':13,fill:'#000'},cb);
    lb.textContent=s;
    
    
  });
});
</script>
</body></html>
